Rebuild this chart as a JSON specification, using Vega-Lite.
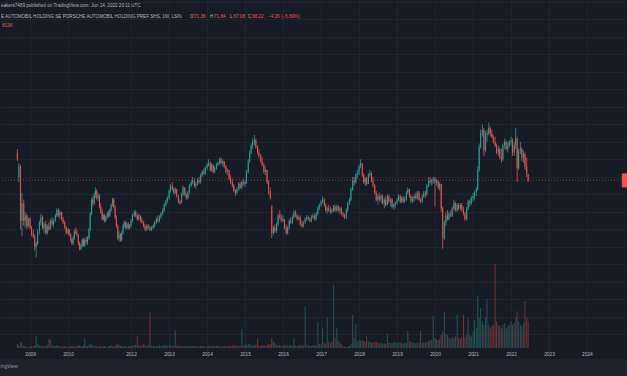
{
"$schema":"https://vega.github.io/schema/vega-lite/v6.json",
"width":627,"height":359,
"autosize":{"type":"none"},
"padding":{"left":0,"top":0,"right":0,"bottom":17},
"background":"#1e222d",
"config":{"view":{"fill":"#171b26","stroke":null},"font":"Liberation Sans"},
"title":{"text":"ingView","orient":"bottom","anchor":"start","fontSize":5,"fontWeight":"normal","color":"#9598a1","offset":5,"font":"Liberation Sans","dx":1},
"datasets":{
"labels":[
{"t":"2008-03-27","p":167.66,"s":"eakers7489 published on TradingView.com, Jun 14, 2022 20:11 UTC","k":"g"},
{"t":"2008-03-27","p":161.09,"s":"E AUTOMOBIL HOLDING SE PORSCHE AUTOMOBIL HOLDING PREF SHS, 1W, LSIN","k":"g"},
{"t":"2013-07-22","p":161.09,"s":"O","k":"g"},
{"t":"2013-08-29","p":161.09,"s":"71.36","k":"r"},
{"t":"2014-01-30","p":161.09,"s":"H","k":"g"},
{"t":"2014-03-09","p":161.09,"s":"71.84","k":"r"},
{"t":"2014-08-10","p":161.09,"s":"L","k":"g"},
{"t":"2014-09-12","p":161.09,"s":"67.08","k":"r"},
{"t":"2015-01-30","p":161.09,"s":"C","k":"g"},
{"t":"2015-03-09","p":161.09,"s":"68.22","k":"r"},
{"t":"2015-08-10","p":161.09,"s":"−4.26 (−5.89%)","k":"r"},
{"t":"2008-04-06","p":156.23,"s":"813K","k":"r"}
],
"candles":[
{"t":"2008-09-01","o":84,"h":86,"l":79,"c":80,"v":120},
{"t":"2008-09-15","o":70,"h":78,"l":67,"c":76,"v":90},
{"t":"2008-10-01","o":76,"h":77,"l":40,"c":45,"v":200},
{"t":"2008-10-15","o":45,"h":61,"l":36,"c":55,"v":150},
{"t":"2008-11-01","o":55,"h":57,"l":42,"c":45,"v":60},
{"t":"2008-11-15","o":45,"h":50,"l":41,"c":48,"v":50},
{"t":"2008-12-01","o":48,"h":49,"l":40,"c":42,"v":40},
{"t":"2008-12-15","o":42,"h":47,"l":41,"c":46,"v":30},
{"t":"2009-01-01","o":46,"h":47,"l":40,"c":41,"v":40},
{"t":"2009-01-15","o":41,"h":42,"l":36,"c":38,"v":60},
{"t":"2009-02-01","o":38,"h":40,"l":35,"c":36,"v":50},
{"t":"2009-02-15","o":36,"h":37,"l":28,"c":30,"v":90},
{"t":"2009-03-01","o":30,"h":33,"l":24,"c":32,"v":360},
{"t":"2009-03-15","o":32,"h":40,"l":31,"c":39,"v":120},
{"t":"2009-04-01","o":39,"h":45,"l":37,"c":44,"v":80},
{"t":"2009-04-15","o":44,"h":49,"l":42,"c":47,"v":70},
{"t":"2009-05-01","o":47,"h":48,"l":40,"c":41,"v":60},
{"t":"2009-05-15","o":41,"h":44,"l":38,"c":43,"v":50},
{"t":"2009-06-01","o":43,"h":45,"l":37,"c":38,"v":60},
{"t":"2009-06-15","o":38,"h":43,"l":37,"c":42,"v":90},
{"t":"2009-07-01","o":42,"h":44,"l":39,"c":40,"v":270},
{"t":"2009-07-15","o":40,"h":46,"l":40,"c":45,"v":250},
{"t":"2009-08-01","o":45,"h":47,"l":42,"c":43,"v":80},
{"t":"2009-08-15","o":43,"h":46,"l":41,"c":45,"v":60},
{"t":"2009-09-01","o":45,"h":49,"l":44,"c":48,"v":70},
{"t":"2009-09-15","o":48,"h":52,"l":47,"c":51,"v":90},
{"t":"2009-10-01","o":51,"h":52,"l":47,"c":48,"v":60},
{"t":"2009-10-15","o":48,"h":51,"l":46,"c":50,"v":50},
{"t":"2009-11-01","o":50,"h":50,"l":45,"c":46,"v":40},
{"t":"2009-11-15","o":46,"h":47,"l":43,"c":44,"v":60},
{"t":"2009-12-01","o":44,"h":45,"l":40,"c":41,"v":50},
{"t":"2009-12-15","o":41,"h":42,"l":37,"c":38,"v":40},
{"t":"2010-01-01","o":38,"h":41,"l":37,"c":40,"v":30},
{"t":"2010-01-15","o":40,"h":40,"l":36,"c":37,"v":40},
{"t":"2010-02-01","o":37,"h":38,"l":33,"c":34,"v":50},
{"t":"2010-02-15","o":34,"h":35,"l":31,"c":32,"v":40},
{"t":"2010-03-01","o":32,"h":36,"l":31,"c":35,"v":60},
{"t":"2010-03-15","o":35,"h":40,"l":34,"c":39,"v":50},
{"t":"2010-04-01","o":39,"h":41,"l":37,"c":38,"v":40},
{"t":"2010-04-15","o":38,"h":40,"l":36,"c":37,"v":60},
{"t":"2010-05-01","o":37,"h":37,"l":31,"c":32,"v":80},
{"t":"2010-05-15","o":32,"h":33,"l":28,"c":29,"v":70},
{"t":"2010-06-01","o":29,"h":32,"l":28,"c":31,"v":60},
{"t":"2010-06-15","o":31,"h":35,"l":30,"c":34,"v":50},
{"t":"2010-07-01","o":34,"h":35,"l":30,"c":31,"v":90},
{"t":"2010-07-15","o":31,"h":35,"l":30,"c":34,"v":300},
{"t":"2010-08-01","o":34,"h":36,"l":32,"c":33,"v":60},
{"t":"2010-08-15","o":33,"h":36,"l":31,"c":35,"v":50},
{"t":"2010-09-01","o":35,"h":41,"l":34,"c":40,"v":80},
{"t":"2010-09-15","o":40,"h":50,"l":39,"c":49,"v":120},
{"t":"2010-10-01","o":49,"h":58,"l":48,"c":57,"v":100},
{"t":"2010-10-15","o":57,"h":59,"l":53,"c":55,"v":70},
{"t":"2010-11-01","o":55,"h":61,"l":54,"c":60,"v":60},
{"t":"2010-11-15","o":60,"h":64,"l":58,"c":62,"v":50},
{"t":"2010-12-01","o":62,"h":63,"l":57,"c":58,"v":60},
{"t":"2010-12-15","o":58,"h":61,"l":56,"c":59,"v":40},
{"t":"2011-01-01","o":59,"h":60,"l":52,"c":53,"v":50},
{"t":"2011-01-15","o":53,"h":55,"l":49,"c":50,"v":60},
{"t":"2011-02-01","o":50,"h":52,"l":45,"c":46,"v":40},
{"t":"2011-02-15","o":46,"h":49,"l":45,"c":48,"v":50},
{"t":"2011-03-01","o":48,"h":49,"l":44,"c":45,"v":60},
{"t":"2011-03-15","o":45,"h":48,"l":44,"c":47,"v":40},
{"t":"2011-04-01","o":47,"h":50,"l":46,"c":49,"v":30},
{"t":"2011-04-15","o":49,"h":51,"l":47,"c":48,"v":50},
{"t":"2011-05-01","o":48,"h":52,"l":47,"c":51,"v":60},
{"t":"2011-05-15","o":51,"h":55,"l":50,"c":54,"v":80},
{"t":"2011-06-01","o":54,"h":58,"l":53,"c":57,"v":50},
{"t":"2011-06-15","o":57,"h":58,"l":52,"c":53,"v":40},
{"t":"2011-07-01","o":53,"h":54,"l":46,"c":47,"v":60},
{"t":"2011-07-15","o":47,"h":48,"l":41,"c":42,"v":90},
{"t":"2011-08-01","o":42,"h":43,"l":34,"c":35,"v":120},
{"t":"2011-08-15","o":35,"h":39,"l":33,"c":37,"v":80},
{"t":"2011-09-01","o":37,"h":38,"l":33,"c":34,"v":60},
{"t":"2011-09-15","o":34,"h":39,"l":33,"c":38,"v":50},
{"t":"2011-10-01","o":38,"h":43,"l":37,"c":42,"v":40},
{"t":"2011-10-15","o":42,"h":45,"l":41,"c":44,"v":60},
{"t":"2011-11-01","o":44,"h":45,"l":40,"c":41,"v":50},
{"t":"2011-11-15","o":41,"h":44,"l":40,"c":43,"v":40},
{"t":"2011-12-01","o":43,"h":44,"l":40,"c":41,"v":50},
{"t":"2011-12-15","o":41,"h":43,"l":40,"c":42,"v":60},
{"t":"2012-01-01","o":42,"h":46,"l":41,"c":45,"v":60},
{"t":"2012-01-15","o":45,"h":49,"l":44,"c":48,"v":70},
{"t":"2012-02-01","o":48,"h":51,"l":47,"c":50,"v":90},
{"t":"2012-02-15","o":50,"h":51,"l":47,"c":48,"v":80},
{"t":"2012-03-01","o":48,"h":49,"l":45,"c":46,"v":360},
{"t":"2012-03-15","o":46,"h":49,"l":45,"c":48,"v":100},
{"t":"2012-04-01","o":48,"h":48,"l":44,"c":45,"v":60},
{"t":"2012-04-15","o":45,"h":47,"l":43,"c":44,"v":80},
{"t":"2012-05-01","o":44,"h":45,"l":41,"c":42,"v":120},
{"t":"2012-05-15","o":42,"h":43,"l":39,"c":40,"v":90},
{"t":"2012-06-01","o":40,"h":43,"l":39,"c":42,"v":70},
{"t":"2012-06-15","o":42,"h":43,"l":40,"c":41,"v":90},
{"t":"2012-07-01","o":41,"h":42,"l":39,"c":40,"v":1080},
{"t":"2012-07-15","o":40,"h":42,"l":39,"c":41,"v":80},
{"t":"2012-08-01","o":41,"h":43,"l":40,"c":42,"v":70},
{"t":"2012-08-15","o":42,"h":45,"l":41,"c":44,"v":60},
{"t":"2012-09-01","o":44,"h":47,"l":43,"c":46,"v":50},
{"t":"2012-09-15","o":46,"h":48,"l":44,"c":45,"v":60},
{"t":"2012-10-01","o":45,"h":48,"l":44,"c":47,"v":80},
{"t":"2012-10-15","o":47,"h":50,"l":46,"c":49,"v":70},
{"t":"2012-11-01","o":49,"h":52,"l":48,"c":51,"v":60},
{"t":"2012-11-15","o":51,"h":55,"l":50,"c":54,"v":90},
{"t":"2012-12-01","o":54,"h":57,"l":53,"c":56,"v":80},
{"t":"2012-12-15","o":56,"h":59,"l":55,"c":58,"v":70},
{"t":"2013-01-01","o":58,"h":63,"l":57,"c":62,"v":80},
{"t":"2013-01-15","o":62,"h":66,"l":61,"c":65,"v":90},
{"t":"2013-02-01","o":65,"h":67,"l":62,"c":63,"v":70},
{"t":"2013-02-15","o":63,"h":64,"l":60,"c":61,"v":60},
{"t":"2013-03-01","o":61,"h":64,"l":60,"c":63,"v":540},
{"t":"2013-03-15","o":63,"h":63,"l":58,"c":59,"v":80},
{"t":"2013-04-01","o":59,"h":60,"l":55,"c":56,"v":60},
{"t":"2013-04-15","o":56,"h":57,"l":54,"c":55,"v":70},
{"t":"2013-05-01","o":55,"h":61,"l":55,"c":60,"v":60},
{"t":"2013-05-15","o":60,"h":65,"l":59,"c":64,"v":50},
{"t":"2013-06-01","o":64,"h":64,"l":59,"c":60,"v":60},
{"t":"2013-06-15","o":60,"h":61,"l":57,"c":58,"v":70},
{"t":"2013-07-01","o":58,"h":62,"l":57,"c":61,"v":50},
{"t":"2013-07-15","o":61,"h":66,"l":60,"c":65,"v":60},
{"t":"2013-08-01","o":65,"h":68,"l":64,"c":67,"v":70},
{"t":"2013-08-15","o":67,"h":70,"l":66,"c":68,"v":60},
{"t":"2013-09-01","o":68,"h":69,"l":64,"c":65,"v":50},
{"t":"2013-09-15","o":65,"h":67,"l":63,"c":66,"v":60},
{"t":"2013-10-01","o":66,"h":69,"l":65,"c":68,"v":40},
{"t":"2013-10-15","o":68,"h":70,"l":66,"c":67,"v":50},
{"t":"2013-11-01","o":67,"h":72,"l":66,"c":71,"v":60},
{"t":"2013-11-15","o":71,"h":74,"l":70,"c":73,"v":70},
{"t":"2013-12-01","o":73,"h":75,"l":71,"c":72,"v":50},
{"t":"2013-12-15","o":72,"h":76,"l":71,"c":75,"v":40},
{"t":"2014-01-01","o":75,"h":78,"l":74,"c":77,"v":50},
{"t":"2014-01-15","o":77,"h":80,"l":76,"c":78,"v":60},
{"t":"2014-02-01","o":78,"h":79,"l":73,"c":74,"v":70},
{"t":"2014-02-15","o":74,"h":78,"l":73,"c":77,"v":50},
{"t":"2014-03-01","o":77,"h":77,"l":72,"c":73,"v":60},
{"t":"2014-03-15","o":73,"h":76,"l":72,"c":75,"v":50},
{"t":"2014-04-01","o":75,"h":78,"l":74,"c":77,"v":60},
{"t":"2014-04-15","o":77,"h":79,"l":76,"c":78,"v":70},
{"t":"2014-05-01","o":78,"h":81,"l":77,"c":80,"v":50},
{"t":"2014-05-15","o":80,"h":81,"l":77,"c":78,"v":40},
{"t":"2014-06-01","o":78,"h":80,"l":76,"c":79,"v":50},
{"t":"2014-06-15","o":79,"h":79,"l":75,"c":76,"v":60},
{"t":"2014-07-01","o":76,"h":77,"l":72,"c":73,"v":70},
{"t":"2014-07-15","o":73,"h":75,"l":71,"c":74,"v":60},
{"t":"2014-08-01","o":74,"h":74,"l":68,"c":69,"v":80},
{"t":"2014-08-15","o":69,"h":71,"l":66,"c":67,"v":60},
{"t":"2014-09-01","o":67,"h":69,"l":64,"c":65,"v":70},
{"t":"2014-09-15","o":65,"h":66,"l":61,"c":62,"v":90},
{"t":"2014-10-01","o":62,"h":63,"l":59,"c":61,"v":80},
{"t":"2014-10-15","o":61,"h":64,"l":60,"c":63,"v":60},
{"t":"2014-11-01","o":63,"h":67,"l":62,"c":66,"v":70},
{"t":"2014-11-15","o":66,"h":67,"l":63,"c":64,"v":60},
{"t":"2014-12-01","o":64,"h":68,"l":63,"c":67,"v":570},
{"t":"2014-12-15","o":67,"h":69,"l":65,"c":66,"v":80},
{"t":"2015-01-01","o":66,"h":68,"l":64,"c":67,"v":90},
{"t":"2015-01-15","o":67,"h":74,"l":66,"c":73,"v":100},
{"t":"2015-02-01","o":73,"h":80,"l":72,"c":79,"v":120},
{"t":"2015-02-15","o":79,"h":85,"l":78,"c":84,"v":110},
{"t":"2015-03-01","o":84,"h":89,"l":83,"c":88,"v":90},
{"t":"2015-03-15","o":88,"h":92,"l":86,"c":90,"v":80},
{"t":"2015-04-01","o":90,"h":94,"l":88,"c":91,"v":100},
{"t":"2015-04-15","o":91,"h":92,"l":86,"c":87,"v":90},
{"t":"2015-05-01","o":87,"h":88,"l":83,"c":84,"v":300},
{"t":"2015-05-15","o":84,"h":86,"l":81,"c":82,"v":80},
{"t":"2015-06-01","o":82,"h":83,"l":78,"c":79,"v":70},
{"t":"2015-06-15","o":79,"h":81,"l":76,"c":77,"v":90},
{"t":"2015-07-01","o":77,"h":78,"l":72,"c":73,"v":80},
{"t":"2015-07-15","o":73,"h":76,"l":71,"c":74,"v":70},
{"t":"2015-08-01","o":74,"h":74,"l":66,"c":67,"v":100},
{"t":"2015-08-15","o":67,"h":68,"l":60,"c":62,"v":110},
{"t":"2015-09-01","o":62,"h":64,"l":57,"c":58,"v":120},
{"t":"2015-09-15","o":53,"h":54,"l":35,"c":38,"v":300},
{"t":"2015-10-01","o":38,"h":42,"l":37,"c":41,"v":200},
{"t":"2015-10-15","o":41,"h":43,"l":38,"c":39,"v":150},
{"t":"2015-11-01","o":39,"h":44,"l":38,"c":43,"v":100},
{"t":"2015-11-15","o":43,"h":49,"l":42,"c":48,"v":90},
{"t":"2015-12-01","o":48,"h":51,"l":46,"c":47,"v":80},
{"t":"2015-12-15","o":47,"h":49,"l":44,"c":45,"v":70},
{"t":"2016-01-01","o":45,"h":48,"l":44,"c":46,"v":80},
{"t":"2016-01-15","o":46,"h":46,"l":40,"c":41,"v":90},
{"t":"2016-02-01","o":41,"h":43,"l":37,"c":38,"v":100},
{"t":"2016-02-15","o":38,"h":42,"l":37,"c":41,"v":70},
{"t":"2016-03-01","o":41,"h":46,"l":40,"c":45,"v":80},
{"t":"2016-03-15","o":45,"h":47,"l":43,"c":44,"v":90},
{"t":"2016-04-01","o":44,"h":48,"l":43,"c":47,"v":60},
{"t":"2016-04-15","o":47,"h":51,"l":46,"c":50,"v":300},
{"t":"2016-05-01","o":50,"h":51,"l":47,"c":48,"v":70},
{"t":"2016-05-15","o":48,"h":49,"l":45,"c":46,"v":60},
{"t":"2016-06-01","o":46,"h":48,"l":45,"c":47,"v":80},
{"t":"2016-06-15","o":47,"h":48,"l":42,"c":43,"v":90},
{"t":"2016-07-01","o":43,"h":45,"l":41,"c":42,"v":70},
{"t":"2016-07-15","o":42,"h":45,"l":41,"c":44,"v":80},
{"t":"2016-08-01","o":44,"h":47,"l":43,"c":46,"v":1260},
{"t":"2016-08-15","o":46,"h":48,"l":45,"c":47,"v":90},
{"t":"2016-09-01","o":47,"h":48,"l":45,"c":46,"v":80},
{"t":"2016-09-15","o":46,"h":47,"l":44,"c":45,"v":70},
{"t":"2016-10-01","o":45,"h":48,"l":44,"c":47,"v":60},
{"t":"2016-10-15","o":47,"h":49,"l":46,"c":48,"v":90},
{"t":"2016-11-01","o":48,"h":49,"l":45,"c":46,"v":100},
{"t":"2016-11-15","o":46,"h":50,"l":45,"c":49,"v":80},
{"t":"2016-12-01","o":49,"h":53,"l":48,"c":52,"v":780},
{"t":"2016-12-15","o":52,"h":55,"l":51,"c":54,"v":120},
{"t":"2017-01-01","o":54,"h":57,"l":53,"c":56,"v":110},
{"t":"2017-01-15","o":56,"h":59,"l":55,"c":57,"v":600},
{"t":"2017-02-01","o":57,"h":58,"l":53,"c":54,"v":150},
{"t":"2017-02-15","o":54,"h":55,"l":50,"c":51,"v":120},
{"t":"2017-03-01","o":51,"h":53,"l":49,"c":52,"v":900},
{"t":"2017-03-15","o":52,"h":54,"l":50,"c":51,"v":180},
{"t":"2017-04-01","o":51,"h":53,"l":49,"c":50,"v":150},
{"t":"2017-04-15","o":50,"h":52,"l":49,"c":51,"v":200},
{"t":"2017-05-01","o":51,"h":54,"l":50,"c":53,"v":1890},
{"t":"2017-05-15","o":53,"h":54,"l":50,"c":51,"v":300},
{"t":"2017-06-01","o":51,"h":54,"l":50,"c":53,"v":600},
{"t":"2017-06-15","o":53,"h":54,"l":50,"c":51,"v":200},
{"t":"2017-07-01","o":51,"h":53,"l":49,"c":52,"v":150},
{"t":"2017-07-15","o":52,"h":53,"l":48,"c":49,"v":120},
{"t":"2017-08-01","o":49,"h":50,"l":47,"c":48,"v":60},
{"t":"2017-08-15","o":48,"h":49,"l":46,"c":47,"v":40},
{"t":"2017-09-01","o":47,"h":52,"l":46,"c":51,"v":30},
{"t":"2017-09-15","o":51,"h":56,"l":50,"c":55,"v":40},
{"t":"2017-10-01","o":55,"h":58,"l":54,"c":57,"v":60},
{"t":"2017-10-15","o":57,"h":64,"l":56,"c":63,"v":120},
{"t":"2017-11-01","o":63,"h":70,"l":62,"c":68,"v":990},
{"t":"2017-11-15","o":68,"h":70,"l":65,"c":67,"v":300},
{"t":"2017-12-01","o":67,"h":72,"l":66,"c":71,"v":720},
{"t":"2017-12-15","o":71,"h":74,"l":69,"c":72,"v":200},
{"t":"2018-01-01","o":72,"h":77,"l":71,"c":76,"v":250},
{"t":"2018-01-15","o":76,"h":80,"l":75,"c":78,"v":220},
{"t":"2018-02-01","o":78,"h":78,"l":70,"c":71,"v":240},
{"t":"2018-02-15","o":71,"h":72,"l":66,"c":67,"v":200},
{"t":"2018-03-01","o":67,"h":70,"l":65,"c":69,"v":180},
{"t":"2018-03-15","o":69,"h":70,"l":65,"c":66,"v":360},
{"t":"2018-04-01","o":66,"h":72,"l":66,"c":71,"v":200},
{"t":"2018-04-15","o":71,"h":74,"l":70,"c":72,"v":180},
{"t":"2018-05-01","o":72,"h":73,"l":67,"c":68,"v":160},
{"t":"2018-05-15","o":68,"h":70,"l":64,"c":65,"v":150},
{"t":"2018-06-01","o":65,"h":66,"l":60,"c":61,"v":170},
{"t":"2018-06-15","o":61,"h":62,"l":56,"c":57,"v":190},
{"t":"2018-07-01","o":57,"h":60,"l":54,"c":59,"v":160},
{"t":"2018-07-15","o":59,"h":61,"l":56,"c":57,"v":140},
{"t":"2018-08-01","o":57,"h":60,"l":55,"c":59,"v":150},
{"t":"2018-08-15","o":59,"h":60,"l":54,"c":55,"v":130},
{"t":"2018-09-01","o":55,"h":58,"l":52,"c":57,"v":140},
{"t":"2018-09-15","o":57,"h":59,"l":53,"c":54,"v":120},
{"t":"2018-10-01","o":54,"h":60,"l":54,"c":59,"v":420},
{"t":"2018-10-15","o":59,"h":60,"l":55,"c":56,"v":160},
{"t":"2018-11-01","o":56,"h":58,"l":53,"c":57,"v":150},
{"t":"2018-11-15","o":57,"h":58,"l":52,"c":53,"v":140},
{"t":"2018-12-01","o":53,"h":55,"l":51,"c":54,"v":170},
{"t":"2018-12-15","o":54,"h":56,"l":52,"c":55,"v":180},
{"t":"2019-01-01","o":55,"h":58,"l":54,"c":57,"v":150},
{"t":"2019-01-15","o":57,"h":60,"l":56,"c":59,"v":160},
{"t":"2019-02-01","o":59,"h":60,"l":55,"c":56,"v":170},
{"t":"2019-02-15","o":56,"h":59,"l":55,"c":58,"v":140},
{"t":"2019-03-01","o":58,"h":59,"l":55,"c":56,"v":130},
{"t":"2019-03-15","o":56,"h":59,"l":55,"c":57,"v":150},
{"t":"2019-04-01","o":57,"h":62,"l":56,"c":61,"v":160},
{"t":"2019-04-15","o":61,"h":64,"l":60,"c":63,"v":510},
{"t":"2019-05-01","o":63,"h":63,"l":58,"c":59,"v":200},
{"t":"2019-05-15","o":59,"h":60,"l":55,"c":56,"v":180},
{"t":"2019-06-01","o":56,"h":59,"l":55,"c":58,"v":170},
{"t":"2019-06-15","o":58,"h":60,"l":56,"c":59,"v":150},
{"t":"2019-07-01","o":59,"h":61,"l":57,"c":58,"v":140},
{"t":"2019-07-15","o":58,"h":62,"l":57,"c":61,"v":160},
{"t":"2019-08-01","o":61,"h":62,"l":56,"c":57,"v":170},
{"t":"2019-08-15","o":57,"h":58,"l":55,"c":56,"v":510},
{"t":"2019-09-01","o":56,"h":60,"l":55,"c":59,"v":180},
{"t":"2019-09-15","o":59,"h":62,"l":58,"c":61,"v":160},
{"t":"2019-10-01","o":61,"h":62,"l":58,"c":60,"v":170},
{"t":"2019-10-15","o":60,"h":66,"l":59,"c":65,"v":190},
{"t":"2019-11-01","o":65,"h":70,"l":64,"c":68,"v":210},
{"t":"2019-11-15","o":68,"h":70,"l":66,"c":67,"v":230},
{"t":"2019-12-01","o":67,"h":69,"l":65,"c":68,"v":250},
{"t":"2019-12-15","o":68,"h":70,"l":66,"c":69,"v":960},
{"t":"2020-01-01","o":69,"h":70,"l":53,"c":67,"v":300},
{"t":"2020-01-15","o":67,"h":69,"l":65,"c":68,"v":260},
{"t":"2020-02-01","o":68,"h":68,"l":63,"c":64,"v":240},
{"t":"2020-02-15","o":64,"h":67,"l":62,"c":66,"v":280},
{"t":"2020-03-01","o":66,"h":66,"l":50,"c":52,"v":400},
{"t":"2020-03-15","o":52,"h":53,"l":29,"c":35,"v":500},
{"t":"2020-04-01","o":35,"h":45,"l":34,"c":44,"v":1080},
{"t":"2020-04-15","o":44,"h":50,"l":42,"c":48,"v":420},
{"t":"2020-05-01","o":48,"h":51,"l":45,"c":46,"v":380},
{"t":"2020-05-15","o":46,"h":50,"l":45,"c":49,"v":300},
{"t":"2020-06-01","o":49,"h":51,"l":47,"c":48,"v":280},
{"t":"2020-06-15","o":48,"h":53,"l":47,"c":52,"v":320},
{"t":"2020-07-01","o":52,"h":57,"l":51,"c":55,"v":300},
{"t":"2020-07-15","o":55,"h":56,"l":50,"c":51,"v":350},
{"t":"2020-08-01","o":51,"h":55,"l":50,"c":54,"v":990},
{"t":"2020-08-15","o":54,"h":55,"l":51,"c":52,"v":300},
{"t":"2020-09-01","o":52,"h":55,"l":51,"c":54,"v":280},
{"t":"2020-09-15","o":54,"h":55,"l":50,"c":51,"v":320},
{"t":"2020-10-01","o":51,"h":53,"l":48,"c":49,"v":990},
{"t":"2020-10-15","o":49,"h":50,"l":45,"c":46,"v":340},
{"t":"2020-11-01","o":46,"h":53,"l":45,"c":52,"v":400},
{"t":"2020-11-15","o":52,"h":57,"l":51,"c":56,"v":900},
{"t":"2020-12-01","o":56,"h":57,"l":53,"c":55,"v":380},
{"t":"2020-12-15","o":55,"h":59,"l":54,"c":58,"v":350},
{"t":"2021-01-01","o":58,"h":61,"l":56,"c":59,"v":500},
{"t":"2021-01-15","o":59,"h":62,"l":57,"c":61,"v":840},
{"t":"2021-02-01","o":61,"h":64,"l":59,"c":63,"v":600},
{"t":"2021-02-15","o":63,"h":76,"l":62,"c":74,"v":1560},
{"t":"2021-03-01","o":74,"h":89,"l":73,"c":87,"v":900},
{"t":"2021-03-15","o":87,"h":97,"l":86,"c":95,"v":1200},
{"t":"2021-04-01","o":95,"h":100,"l":93,"c":97,"v":800},
{"t":"2021-04-15","o":97,"h":98,"l":82,"c":85,"v":700},
{"t":"2021-05-01","o":85,"h":96,"l":84,"c":94,"v":900},
{"t":"2021-05-15","o":94,"h":97,"l":90,"c":95,"v":1470},
{"t":"2021-06-01","o":95,"h":101,"l":94,"c":98,"v":700},
{"t":"2021-06-15","o":98,"h":99,"l":93,"c":95,"v":600},
{"t":"2021-07-01","o":95,"h":97,"l":92,"c":93,"v":650},
{"t":"2021-07-15","o":93,"h":94,"l":89,"c":90,"v":700},
{"t":"2021-08-01","o":90,"h":93,"l":87,"c":88,"v":2520},
{"t":"2021-08-15","o":88,"h":89,"l":83,"c":84,"v":800},
{"t":"2021-09-01","o":84,"h":88,"l":82,"c":86,"v":700},
{"t":"2021-09-15","o":86,"h":87,"l":80,"c":81,"v":650},
{"t":"2021-10-01","o":81,"h":86,"l":78,"c":80,"v":600},
{"t":"2021-10-15","o":80,"h":89,"l":79,"c":88,"v":700},
{"t":"2021-11-01","o":88,"h":92,"l":86,"c":90,"v":750},
{"t":"2021-11-15","o":90,"h":91,"l":85,"c":86,"v":600},
{"t":"2021-12-01","o":86,"h":90,"l":84,"c":88,"v":650},
{"t":"2021-12-15","o":88,"h":91,"l":87,"c":90,"v":700},
{"t":"2022-01-01","o":90,"h":93,"l":88,"c":91,"v":800},
{"t":"2022-01-15","o":91,"h":92,"l":82,"c":84,"v":700},
{"t":"2022-02-01","o":84,"h":90,"l":82,"c":88,"v":750},
{"t":"2022-02-15","o":88,"h":98,"l":86,"c":92,"v":900},
{"t":"2022-03-01","o":92,"h":93,"l":67,"c":75,"v":1100},
{"t":"2022-03-15","o":75,"h":86,"l":74,"c":85,"v":800},
{"t":"2022-04-01","o":85,"h":90,"l":83,"c":86,"v":700},
{"t":"2022-04-15","o":86,"h":87,"l":79,"c":81,"v":650},
{"t":"2022-05-01","o":81,"h":85,"l":78,"c":83,"v":750},
{"t":"2022-05-15","o":83,"h":84,"l":74,"c":76,"v":1410},
{"t":"2022-06-01","o":76,"h":81,"l":70,"c":72,"v":900},
{"t":"2022-06-15","o":71.36,"h":71.84,"l":67.08,"c":68.22,"v":813}
]},
"data":{"name":"candles"},
"resolve":{"scale":{"y":"independent"}},
"layer":[
{"mark":{"type":"bar","width":1.1,"opacity":0.4},
 "encoding":{
  "x":{"field":"t","type":"temporal",
   "scale":{"type":"utc","nice":false,"domainRaw":{"expr":"[1205798400000,1262304000000,1325376000000,1737331200000]"},"range":[0,68,131,627]},
   "axis":{"title":null,"format":"%Y","grid":true,"gridColor":"#20242f","ticks":false,"domain":false,"labelColor":"#b2b5be","labelFontSize":4.8,"labelPadding":3,"offset":-11,"labelFont":"Liberation Sans","tickCount":40,"labelOverlap":false,
    "values":[1230768000000,1262304000000,1325376000000,1356998400000,1388534400000,1420070400000,1451606400000,1483228800000,1514764800000,1546300800000,1577836800000,1609459200000,1640995200000,1672531200000,1704067200000]}},
  "y":{"field":"v","type":"quantitative","scale":{"domain":[-330,10440],"nice":false,"zero":false},"axis":null},
  "y2":{"datum":0},
  "color":{"condition":{"test":"datum.c >= datum.o","value":"#26a69a"},"value":"#ef5350"}
 }},
{"layer":[
 {"mark":{"type":"rule","strokeWidth":0.9,"opacity":0.85},
  "encoding":{
   "x":{"field":"t","type":"temporal","scale":{"type":"utc","nice":false,"domainRaw":{"expr":"[1205798400000,1262304000000,1325376000000,1737331200000]"},"range":[0,68,131,627]}},
   "y":{"field":"l","type":"quantitative","scale":{"domain":[-34.06,171.09],"nice":false,"zero":false},
    "axis":{"orient":"right","title":null,"grid":true,"gridColor":"#20242f","labels":false,"ticks":false,"domain":false,"tickCount":60,"values":[-20,-10,0,10,20,30,40,50,60,70,80,90,100,110,120,130,140,150,160,170]}},
   "y2":{"field":"h"},
   "color":{"condition":{"test":"datum.c >= datum.o","value":"#26a69a"},"value":"#ef5350"}
  }},
 {"mark":{"type":"bar","width":1.1,"opacity":0.85},
  "encoding":{
   "x":{"field":"t","type":"temporal","scale":{"type":"utc","nice":false,"domainRaw":{"expr":"[1205798400000,1262304000000,1325376000000,1737331200000]"},"range":[0,68,131,627]}},
   "y":{"field":"o","type":"quantitative"},
   "y2":{"field":"c"},
   "color":{"condition":{"test":"datum.c >= datum.o","value":"#26a69a"},"value":"#ef5350"}
  }},
 {"data":{"values":[{"p":68.22}]},
  "mark":{"type":"rule","color":"#ef5350","opacity":0.5,"strokeDash":[1,2],"strokeWidth":1},
  "encoding":{"y":{"field":"p","type":"quantitative"}}},
 {"data":{"values":[{"t":"2024-12-01","t2":"2025-03-01","p1":64,"p2":72}]},
  "mark":{"type":"rect","color":"#ef5350","clip":true},
  "encoding":{"x":{"field":"t","type":"temporal","scale":{"type":"utc","nice":false,"domainRaw":{"expr":"[1205798400000,1262304000000,1325376000000,1737331200000]"},"range":[0,68,131,627]}},"x2":{"field":"t2"},"y":{"field":"p1","type":"quantitative"},"y2":{"field":"p2"}}},
 {"data":{"name":"labels"},
  "mark":{"type":"text","align":"left","baseline":"middle","fontSize":4.6,"font":"Liberation Sans"},
  "encoding":{
   "x":{"field":"t","type":"temporal","scale":{"type":"utc","nice":false,"domainRaw":{"expr":"[1205798400000,1262304000000,1325376000000,1737331200000]"},"range":[0,68,131,627]}},
   "y":{"field":"p","type":"quantitative"},
   "text":{"field":"s"},
   "color":{"condition":{"test":"datum.k == 'r'","value":"#ef5350"},"value":"#b2b5be"}
  }}
]}
]
}
